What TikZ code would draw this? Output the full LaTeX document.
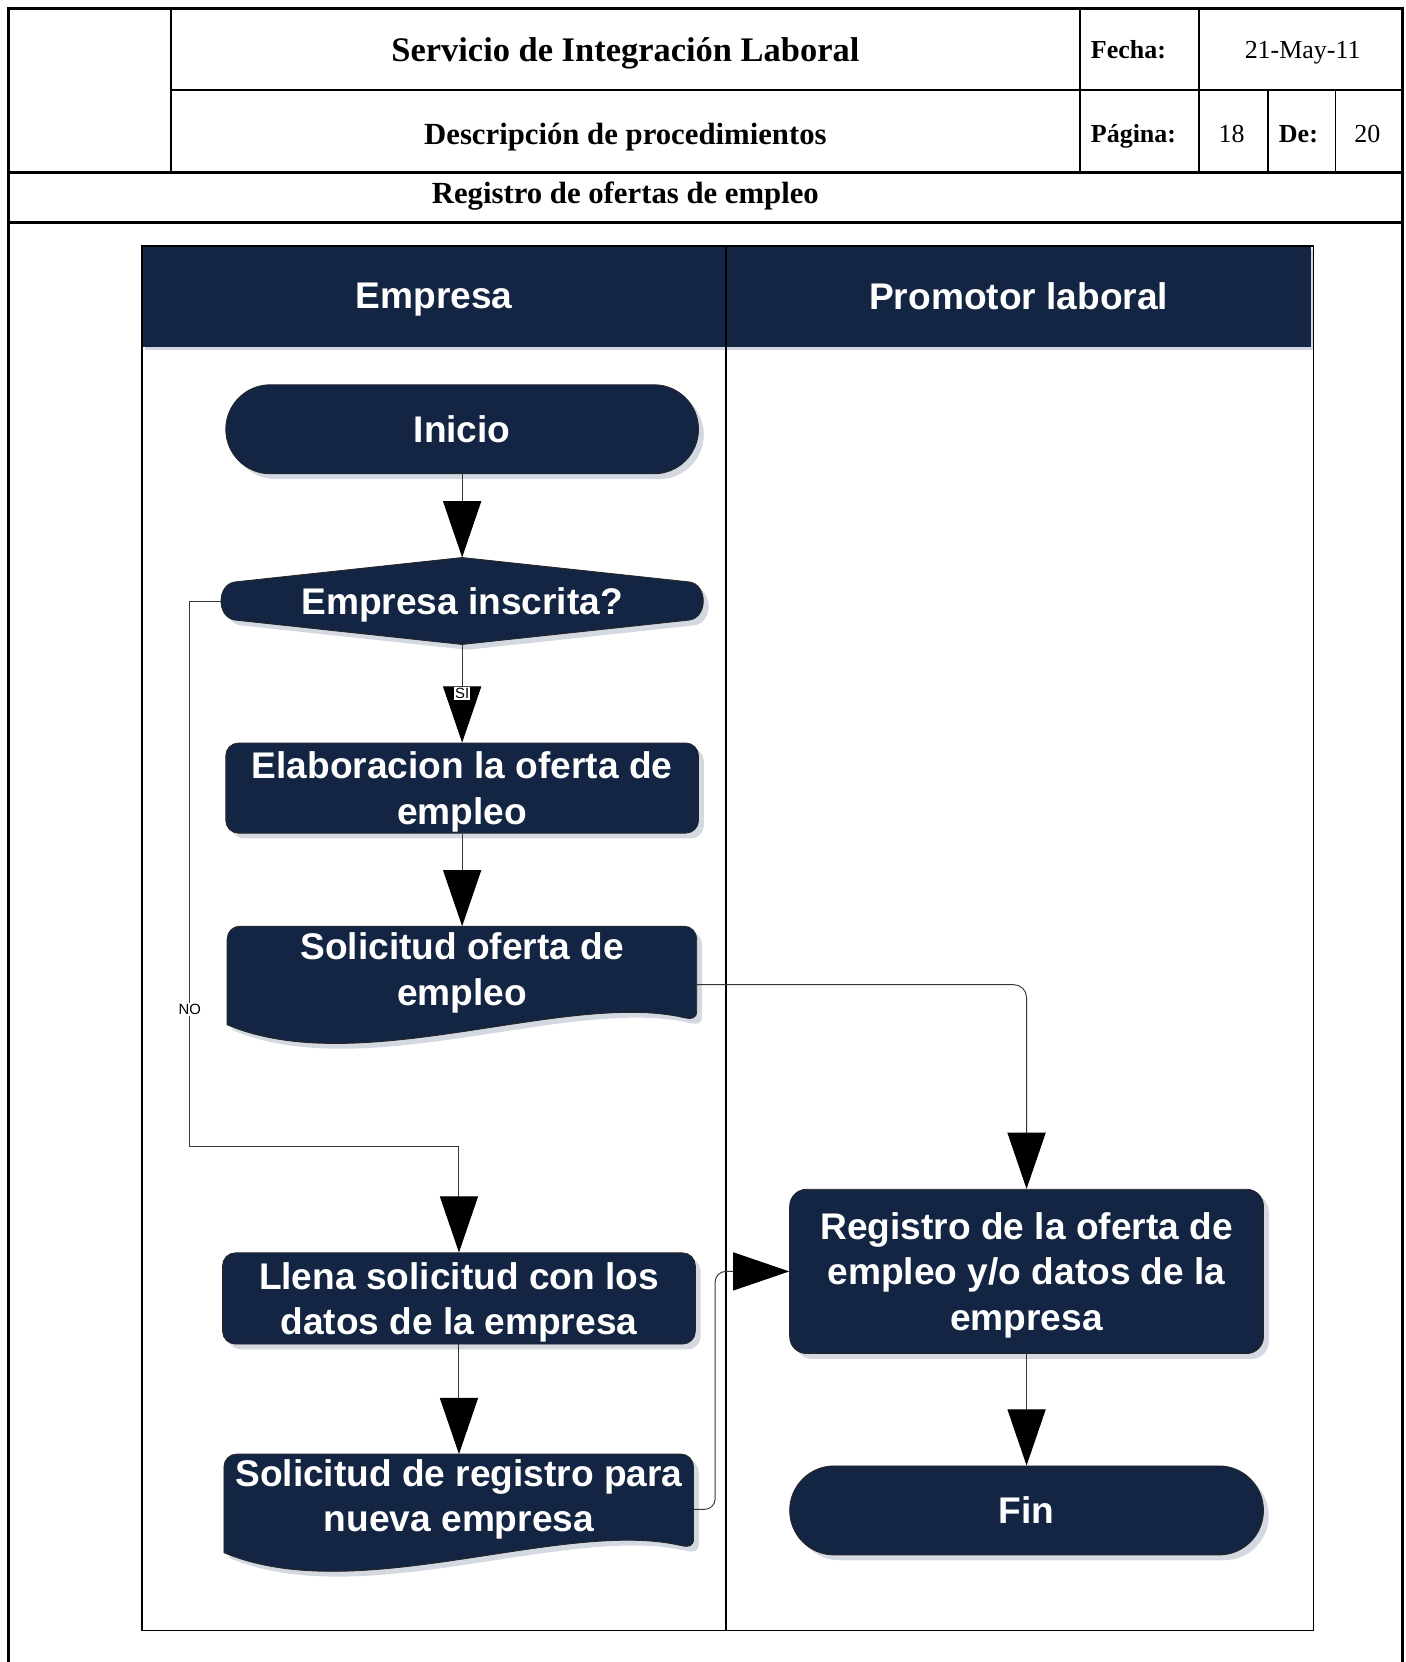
\documentclass[tikz,border=0pt]{standalone}
\usepackage{fontspec}
\setmainfont{Liberation Serif}
\newfontfamily\sansfam{Liberation Sans}
\usetikzlibrary{arrows.meta,shadows,backgrounds,calc}

\definecolor{navy}{RGB}{19,37,66}
\definecolor{shade}{RGB}{212,217,225}
\definecolor{wire}{RGB}{55,55,55}

\tikzset{
  shapeshadow/.style={drop shadow={shadow xshift=5pt,shadow yshift=-5pt,fill=shade,opacity=1}},
  boxtext/.style={text=white,font=\sansfam\bfseries\fontsize{35}{43}\selectfont,align=center,inner sep=0pt,text depth=0pt},
  procbox/.style={boxtext,draw=black!85,line width=0.8pt,fill=navy,rounded corners=12pt,shapeshadow},
  termbox/.style={procbox,rounded corners=42pt,minimum width=446pt,minimum height=84pt},
  frame/.style={boxtext},
  outline/.style={draw=black!85,line width=0.8pt,fill=navy,shapeshadow},
  conn/.style={draw=wire,line width=0.9pt,-{Triangle[length=53pt,width=36pt,color=black]}},
  flag/.style={fill=white,inner sep=1pt,text=black,font=\sansfam\fontsize{14}{14}\selectfont},
  lanetext/.style={text=white,font=\sansfam\bfseries\fontsize{35}{40}\selectfont,text depth=0pt},
  thinrule/.style={line width=1.6pt},
  heavyrule/.style={line width=2.6pt},
  htext/.style={text depth=0pt},
  hbold/.style={htext,font=\bfseries\fontsize{24.5}{28}\selectfont},
  hplain/.style={htext,font=\fontsize{24.5}{28}\selectfont},
}

\begin{document}
\begin{tikzpicture}[x=1pt,y=-1pt]
\useasboundingbox (0,0) rectangle (1326,1568);

% page frame and heading table
\draw[heavyrule] (8,1600) -- (8,8) -- (1323,8) -- (1323,1600);
\draw[thinrule] (161,8) -- (161,163);
\draw[thinrule] (161,85) -- (1323,85);
\draw[heavyrule] (8,163) -- (1323,163);
\draw[heavyrule] (8,210) -- (1323,210);
\draw[thinrule] (1019,8) -- (1019,163);
\draw[thinrule] (1131,8) -- (1131,163);
\draw[thinrule] (1196,85) -- (1196,163);
\draw[thinrule] (1260,85) -- (1260,163);

\node[htext,font=\bfseries\fontsize{32.5}{36}\selectfont] (title) at (590,47) {Servicio de Integración Laboral};
\node[hbold,anchor=west,inner sep=0pt] (fechaL) at (1029,47) {Fecha:};
\node[hplain] (fechaV) at (1229,47) {21-May-11};
\node[htext,font=\bfseries\fontsize{29}{32}\selectfont] (subtitle) at (590,126) {Descripción de procedimientos};
\node[hbold,anchor=west,inner sep=0pt] (pagL) at (1029,126) {Página:};
\node[hplain] (pagV) at (1162,126) {18};
\node[hbold] (deL) at (1225,126) {De:};
\node[hplain] (deV) at (1290,126) {20};
\node[htext,font=\bfseries\fontsize{29}{32}\selectfont] (proc) at (590,182) {Registro de ofertas de empleo};

% swimlanes
\fill[navy,drop shadow={shadow xshift=3pt,shadow yshift=-3pt,fill=shade,opacity=1}] (134,232) rectangle (1237,327);
\draw[line width=1.2pt] (134,232) rectangle (1239,1538);
\draw[line width=1.2pt] (685,232) -- (685,1538);
\node[lanetext] (laneA) at (409.5,279) {Empresa};
\node[lanetext] (laneB) at (961,279) {Promotor laboral};

% flow nodes
\node[termbox] (ini) at (436,405) {Inicio};
\node[frame,minimum width=455pt,minimum height=82pt] (dec) at (436,567) {Empresa inscrita?};
\node[procbox,minimum width=446pt,minimum height=85pt] (elab) at (436,743.5) {Elaboracion la oferta de\\empleo};
\node[frame,minimum width=443pt,minimum height=80pt] (sol1) at (436,914) {Solicitud oferta de\\empleo};
\node[procbox,minimum width=446pt,minimum height=86pt] (llena) at (433,1225) {Llena solicitud con los\\datos de la empresa};
\node[frame,minimum width=443pt,minimum height=78pt] (sol2) at (433,1411) {Solicitud de registro para\\nueva empresa};
\node[procbox,minimum width=447pt,minimum height=155pt,rounded corners=16pt] (reg) at (968.5,1199.5) {Registro de la oferta de\\empleo y/o datos de la\\empresa};
\node[termbox,minimum width=447pt] (fin) at (968.5,1425) {Fin};

% outlines of the decision and document shapes
\begin{pgfonlayer}{background}
  \begin{scope}[shift={(dec.center)}]
    \path[outline] (0,-41) -- (214,-18) .. controls (232,-16) and (232,16) .. (214,18)
      -- (0,41) -- (-214,18) .. controls (-232,16) and (-232,-16) .. (-214,-18) -- cycle;
  \end{scope}
  \foreach \d in {sol1,sol2}{
    \begin{scope}[shift={(\d.north west)}]
      \path[outline] (0,93) -- (0,12) .. controls (0,5.4) and (5.4,0) .. (12,0)
        -- (431,0) .. controls (437.6,0) and (443,5.4) .. (443,12)
        -- (443,80) .. controls (443,87) and (438,88) .. (432,86.5)
        .. controls (320,60) and (125,146) .. (0,93) -- cycle;
    \end{scope}
  }
\end{pgfonlayer}

% connectors
\coordinate (nobend) at (179,1082);
\draw[conn] (ini) -- (dec);
\draw[conn] (dec) -- node[flag] {SI} (elab);
\draw[conn] (elab.south) -- (sol1.north);
\draw[conn] (dec.west) -| node[flag,pos=0.874] {NO} (nobend) -| (llena.north);
\draw[conn] (llena.south) -- (sol2.north);
\draw[conn,rounded corners=12pt] ([yshift=-15pt]sol1.east) -| (reg.north);
\draw[conn,rounded corners=10pt] ([yshift=-13pt]sol2.east) -- ++(20,0) |- (reg.west);
\draw[conn] (reg) -- (fin);
\end{tikzpicture}
\end{document}
